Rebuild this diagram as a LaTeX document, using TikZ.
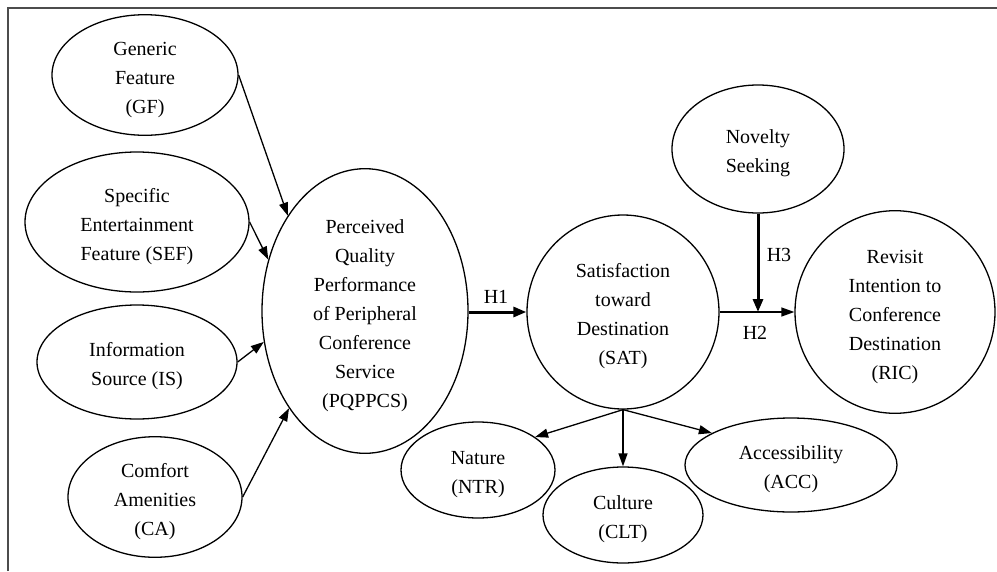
\documentclass[tikz,border=0pt]{standalone}
\usepackage{fontspec}
\setmainfont{Liberation Serif}
\usetikzlibrary{shapes.geometric,arrows.meta}
\newcommand{\topgap}{\rule{0pt}{23pt}}
\begin{document}
\begin{tikzpicture}[x=1pt,y=-1pt,
  cons/.style={ellipse,draw,line width=1.3pt,inner sep=0pt,align=center,
    font=\fontsize{20}{29}\selectfont},
  thinarrow/.style={line width=1.3pt,-{Triangle[length=13pt,width=9pt]}},
  thickarrow/.style={line width=3pt,-{Triangle[length=13pt,width=10pt]}},
  hlab/.style={font=\fontsize{20}{24}\selectfont,inner sep=0pt}]
\useasboundingbox (0,0) rectangle (997,571);
\draw[line width=2pt,black!70] (8,571) -- (8,7.5) -- (997,7.5);

\node[cons,minimum width=186pt,minimum height=106pt] (GF) at (145,75) {\topgap Generic\\Feature\\(GF)};
\node[cons,minimum width=224pt,minimum height=140pt] (SEF) at (137,222) {\topgap Specific\\Entertainment\\Feature (SEF)};
\node[cons,minimum width=200pt,minimum height=114pt] (IS) at (137,362) {\topgap Information\\Source (IS)};
\node[cons,minimum width=174pt,minimum height=114pt] (CA) at (155,497) {\topgap Comfort\\Amenities\\(CA)};
\node[cons,minimum width=206pt,minimum height=248pt] (PQ) at (365,311) {\topgap Perceived\\Quality\\Performance\\of Peripheral\\Conference\\Service\\(PQPPCS)};
\node[cons,minimum width=192pt,minimum height=194pt] (SAT) at (623,312) {\topgap Satisfaction\\toward\\Destination\\(SAT)};
\node[cons,minimum width=172pt,minimum height=128pt] (NOV) at (758,149) {\topgap Novelty\\Seeking};
\node[cons,minimum width=200pt,minimum height=168pt] (RIC) at (895,312) {\topgap Revisit\\Intention to\\Conference\\Destination\\(RIC)};
\node[cons,minimum width=154pt,minimum height=96pt] (NTR) at (478,470) {\topgap Nature\\(NTR)};
\node[cons,minimum width=160pt,minimum height=96pt] (CLT) at (623,515) {\topgap Culture\\(CLT)};
\node[cons,minimum width=212pt,minimum height=94pt] (ACC) at (791,465) {\topgap Accessibility\\(ACC)};

\draw[thinarrow] (GF.east) -- (PQ.129);
\draw[thinarrow] (SEF.east) -- (PQ.152);
\draw[thinarrow] (IS.east) -- (PQ.197);
\draw[thinarrow] (CA.east) -- (PQ.232);

\draw[thickarrow] (PQ.east |- SAT.west) -- (SAT.west);
\node[hlab] (H1) at (496,297) {H1};

\draw[thinarrow] (SAT.east) -- (RIC.west);
\node[hlab] (H2) at (755,333) {H2};

\coordinate (H3end) at (NOV.south |- SAT.east);
\draw[thickarrow] (NOV.south) -- (H3end);
\node[hlab] (H3) at (779,255) {H3};

\draw[thinarrow] (SAT.south) -- (NTR.30);
\draw[thinarrow] (SAT.south) -- (CLT.north);
\draw[thinarrow] (SAT.south) -- (ACC.158);
\end{tikzpicture}
\end{document}
